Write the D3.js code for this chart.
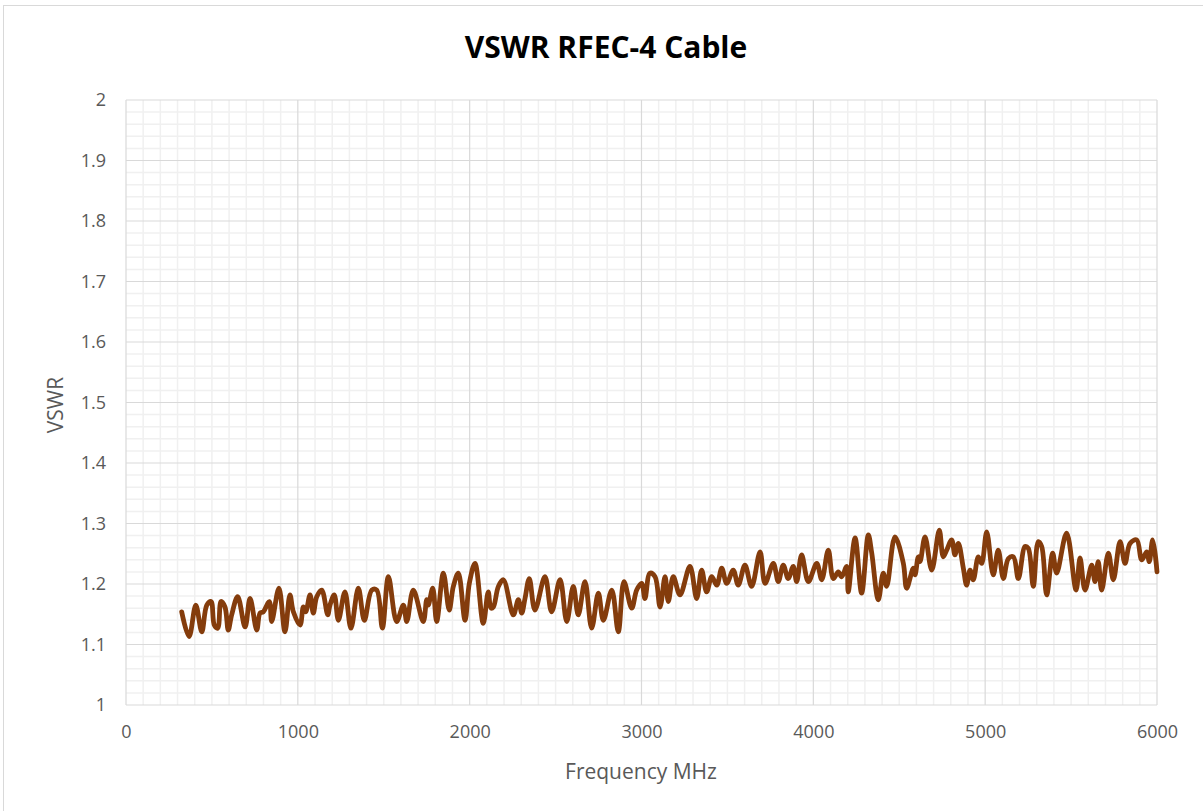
<!DOCTYPE html>
<html><head><meta charset="utf-8">
<script src="https://cdn.jsdelivr.net/npm/d3@7"></script>
<style>body{margin:0;background:#fff}svg{display:block}</style>
</head><body>
<svg id="c" width="1203" height="811"></svg>
<script>
const title = "VSWR RFEC-4 Cable";
const xTitle = "Frequency MHz";
const yTitle = "VSWR";
const xTicks = [0,1000,2000,3000,4000,5000,6000];
const yTicks = [1,1.1,1.2,1.3,1.4,1.5,1.6,1.7,1.8,1.9,2];
const freqMHz = [324,367,406,441,470,495,514,534,553,576,595,615,650,693,722,761,780,799,834,848,890,925,954,974,1013,1032,1046,1071,1090,1110,1139,1174,1187,1212,1236,1274,1309,1352,1387,1430,1459,1492,1527,1575,1614,1634,1672,1730,
1750,1759,1785,1808,1847,1881,1905,1934,1973,1998,2031,2079,2108,2124,2138,2167,2196,2254,2283,2303,2322,2347,2380,2438,2477,2526,2565,2603,2632,2671,2710,2749,2778,2827,2865,2898,2943,2972,3001,3020,3049,3079,3108,3137,3156,
3185,3224,3282,3321,3350,3379,3409,3438,3467,3496,3534,3563,3602,3641,3690,3719,3767,3796,3825,3854,3883,3903,3932,3971,4020,4049,4087,4116,4145,4165,4194,4203,4243,4281,4320,4340,4378,4407,4427,4475,4524,4543,4582,
4592,4611,4621,4650,4689,4733,4756,4776,4805,4824,4844,4873,4892,4912,4931,4960,4980,5009,5047,5076,5106,5135,5164,5193,5232,5251,5280,5309,5329,5358,5393,5416,5474,5529,5552,5581,5620,5639,5658,5678,5717,5746,5785,5814,5843,5882,5911,5940,5955,5975,6000];
const vswr = [1.154,1.113,1.165,1.121,1.165,1.171,1.132,1.127,1.171,1.162,1.124,1.149,1.179,1.129,1.176,1.124,1.152,1.154,1.171,1.138,1.193,1.121,1.182,1.154,1.132,1.162,1.154,1.182,1.152,1.179,1.190,1.149,1.165,1.182,1.140,1.187,1.127,1.193,1.140,1.190,1.190,1.127,1.212,1.138,1.165,1.138,1.190,1.138,
1.174,1.165,1.193,1.138,1.218,1.157,1.196,1.218,1.140,1.201,1.234,1.135,1.187,1.160,1.162,1.196,1.207,1.149,1.174,1.152,1.176,1.209,1.157,1.212,1.154,1.207,1.138,1.196,1.149,1.204,1.127,1.185,1.140,1.190,1.121,1.204,1.160,1.190,1.201,1.176,1.218,1.212,1.162,1.212,1.171,
1.212,1.182,1.229,1.176,1.223,1.187,1.212,1.198,1.226,1.201,1.223,1.198,1.231,1.196,1.253,1.201,1.234,1.204,1.231,1.209,1.229,1.204,1.248,1.204,1.234,1.207,1.256,1.209,1.220,1.212,1.229,1.187,1.276,1.185,1.281,1.251,1.174,1.218,1.196,1.278,1.234,1.193,1.226,
1.215,1.245,1.237,1.278,1.223,1.289,1.245,1.256,1.273,1.248,1.267,1.226,1.198,1.223,1.207,1.245,1.234,1.286,1.215,1.256,1.209,1.242,1.245,1.209,1.262,1.259,1.196,1.270,1.262,1.182,1.251,1.218,1.284,1.190,1.243,1.190,1.231,1.204,1.237,1.190,1.251,1.207,1.270,1.234,1.267,1.273,1.240,1.253,1.237,1.273,1.220];

const data = freqMHz.map((f,i)=>({f, v:vswr[i]}));
const svg = d3.select("#c");
const W = 1203, H = 811;
const m = {left:126, right:1157, top:100, bottom:705};

svg.append("rect").attr("x",3.5).attr("y",5.5).attr("width",W+10).attr("height",H+10)
  .attr("fill","#fff").attr("stroke","#d9d9d9").attr("stroke-width",1);

const x = d3.scaleLinear().domain([0,6000]).range([m.left,m.right]);
const y = d3.scaleLinear().domain([1,2]).range([m.bottom,m.top]);

// minor grid
const g = svg.append("g");
const minorX = d3.range(0,6001,100).filter(v=>v%1000!==0);
const minorY = d3.range(1,2.0001,0.02).map(v=>+v.toFixed(2)).filter(v=>Math.abs(v*10-Math.round(v*10))>1e-6);
g.selectAll(".mx").data(minorX).join("line")
  .attr("x1",d=>x(d)).attr("x2",d=>x(d)).attr("y1",m.top).attr("y2",m.bottom)
  .attr("stroke","#f0f0f0").attr("stroke-width",1.5);
g.selectAll(".my").data(minorY).join("line")
  .attr("y1",d=>y(d)).attr("y2",d=>y(d)).attr("x1",m.left).attr("x2",m.right)
  .attr("stroke","#f0f0f0").attr("stroke-width",1.5);
// major grid
g.selectAll(".Mx").data(xTicks).join("line")
  .attr("x1",d=>x(d)).attr("x2",d=>x(d)).attr("y1",m.top).attr("y2",m.bottom)
  .attr("stroke","#d9d9d9").attr("stroke-width",1.2);
g.selectAll(".My").data(yTicks).join("line")
  .attr("y1",d=>y(d)).attr("y2",d=>y(d)).attr("x1",m.left).attr("x2",m.right)
  .attr("stroke","#d9d9d9").attr("stroke-width",1.2);

// axes labels via d3 axis
const font = "'Open Sans', 'DejaVu Sans', sans-serif";
const xAxis = svg.append("g").attr("transform",`translate(0,${m.bottom})`)
  .call(d3.axisBottom(x).tickValues(xTicks).tickSize(0).tickPadding(20).tickFormat(d3.format("d")));
const yAxis = svg.append("g").attr("transform",`translate(${m.left},0)`)
  .call(d3.axisLeft(y).tickValues(yTicks).tickSize(0).tickPadding(20).tickFormat(d=>d3.format("")(+d.toFixed(1))));
[xAxis,yAxis].forEach(a=>{
  a.select(".domain").remove();
  a.selectAll("text").attr("fill","#595959").style("font-family",font).style("font-size","18px");
});

// line
const line = d3.line().x(d=>x(d.f)).y(d=>y(d.v)).curve(d3.curveCatmullRom.alpha(0.5));
svg.append("path").datum(data).attr("d",line)
  .attr("fill","none").attr("stroke","#843C0C").attr("stroke-width",4.8)
  .attr("stroke-linejoin","round").attr("stroke-linecap","round");

// titles
svg.append("text").attr("x",606).attr("y",58).attr("text-anchor","middle")
  .style("font-family",font).style("font-weight","bold").style("font-size","30px").attr("fill","#000")
  .text(title);
svg.append("text").attr("x",641).attr("y",779).attr("text-anchor","middle")
  .style("font-family",font).style("font-size","21px").attr("fill","#595959").text(xTitle);
svg.append("text").attr("transform","translate(63,405) rotate(-90)").attr("text-anchor","middle")
  .style("font-family",font).style("font-size","21px").attr("fill","#595959").text(yTitle);
</script>
</body></html>
